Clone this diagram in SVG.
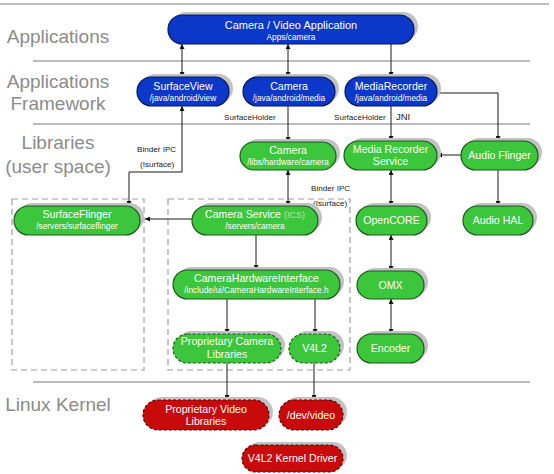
<svg xmlns="http://www.w3.org/2000/svg" width="554" height="474" viewBox="0 0 554 474">
<defs>
<marker id="ah" viewBox="0 0 6 6" refX="6" refY="3" markerWidth="5" markerHeight="5" orient="auto-start-reverse" markerUnits="userSpaceOnUse"><path d="M0,0 L6,3 L0,6 z" fill="#111"/></marker>
</defs>
<style>
.rule{stroke:#a6a6a6;stroke-width:1.5}
.sec{font-family:"Liberation Sans",Arial,sans-serif;font-size:19px;fill:#8c8c8c;text-anchor:middle}
.sh{fill:#c2c2c2}
.blue{fill:#0b38c8;stroke:#02195e;stroke-width:1.2}
.green{fill:#3bc63b;stroke:#1d5a1d;stroke-width:1.2}
.red{fill:#c80a0a;stroke:#5a0000;stroke-width:1.2;stroke-dasharray:3 2}
.dash{stroke-dasharray:3 2}
.t{font-family:"Liberation Sans",Arial,sans-serif;font-size:10.6px;fill:#fff;text-anchor:middle}
.s{font-family:"Liberation Sans",Arial,sans-serif;font-size:8.3px;fill:#fff;text-anchor:middle}
.lbl{font-family:"Liberation Sans",Arial,sans-serif;font-size:8.1px;fill:#222}
.c{fill:none;stroke:#1a1a1a;stroke-width:1}
.box{fill:none;stroke:#a0a0a0;stroke-width:1.2;stroke-dasharray:6 4}
</style>
<rect width="554" height="474" fill="#fff"/>
<g id="rules">
<line class="rule" x1="0" y1="4" x2="549" y2="4"/>
<line class="rule" x1="33" y1="61" x2="530" y2="61"/>
<line class="rule" x1="33" y1="124" x2="530" y2="124"/>
<line class="rule" x1="33" y1="382" x2="530" y2="382"/>
</g>
<g id="sections">
<text class="sec" x="58" y="43">Applications</text>
<text class="sec" x="58" y="88">Applications</text>
<text class="sec" x="58" y="110">Framework</text>
<text class="sec" x="58" y="149">Libraries</text>
<text class="sec" x="58" y="173">(user space)</text>
<text class="sec" x="58" y="411">Linux Kernel</text>
</g>
<g id="boxes">
<rect class="box" x="12" y="199" width="132" height="171"/>
<rect class="box" x="168" y="199" width="182" height="171"/>
</g>
<g id="connectors">
<path class="c" d="M182,44 V77" marker-start="url(#ah)" marker-end="url(#ah)"/>
<path class="c" d="M288,44 V77" marker-start="url(#ah)" marker-end="url(#ah)"/>
<path class="c" d="M391,44 V77" marker-end="url(#ah)"/>
<path class="c" d="M437,93 H498 V141" marker-end="url(#ah)"/>
<path class="c" d="M391,106 V141" marker-end="url(#ah)"/>
<path class="c" d="M288,106 V142" marker-end="url(#ah)"/>
<path class="c" d="M182,106 V172 H129 V206" marker-start="url(#ah)" marker-end="url(#ah)"/>
<path class="c" d="M461,155 H437" marker-end="url(#ah)"/>
<path class="c" d="M498,170 V206" marker-end="url(#ah)"/>
<path class="c" d="M288,170 V206" marker-start="url(#ah)" marker-end="url(#ah)"/>
<path class="c" d="M391,170 V206" marker-start="url(#ah)" marker-end="url(#ah)"/>
<path class="c" d="M391,235 V271" marker-start="url(#ah)" marker-end="url(#ah)"/>
<path class="c" d="M391,299 V334" marker-start="url(#ah)" marker-end="url(#ah)"/>
<path class="c" d="M192,219 H145" marker-end="url(#ah)"/>
<path class="c" d="M256,235 V270" marker-end="url(#ah)"/>
<path class="c" d="M227,299 V334" marker-end="url(#ah)"/>
<path class="c" d="M315,299 V334" marker-end="url(#ah)"/>
<path class="c" d="M227,363 V400" marker-end="url(#ah)"/>
<path class="c" d="M314,363 V400" marker-end="url(#ah)"/>
<text class="lbl" x="224" y="120">SurfaceHolder</text>
<text class="lbl" x="334" y="120">SurfaceHolder</text>
<text class="lbl" x="396" y="120" style="font-size:9.5px">JNI</text>
<text class="lbl" x="137" y="152">Binder IPC</text>
<text class="lbl" x="140" y="167">(Isurface)</text>
<text class="lbl" x="311" y="191">Binder IPC</text>
<text class="lbl" x="313" y="206">(Isurface)</text>
</g>
<g id="app">
<rect class="sh" x="172" y="12" width="246" height="29" rx="14.5"/>
<rect class="blue" x="168" y="15" width="246" height="29" rx="14.5"/>
<text class="t" x="291" y="29" style="font-size:11px">Camera / Video Application</text>
<text class="s" x="291" y="40">Apps/camera</text>
</g>
<g id="surfaceview">
<rect class="sh" x="141" y="74" width="92" height="29" rx="14.5"/>
<rect class="blue" x="137" y="77" width="92" height="29" rx="14.5"/>
<text class="t" x="183" y="90">SurfaceView</text>
<text class="s" x="183" y="101">/java/android/view</text>
</g>
<g id="camera-fw">
<rect class="sh" x="247" y="74" width="92" height="29" rx="14.5"/>
<rect class="blue" x="243" y="77" width="92" height="29" rx="14.5"/>
<text class="t" x="289" y="90">Camera</text>
<text class="s" x="289" y="101">/java/android/media</text>
</g>
<g id="mediarecorder">
<rect class="sh" x="349" y="74" width="92" height="29" rx="14.5"/>
<rect class="blue" x="345" y="77" width="92" height="29" rx="14.5"/>
<text class="t" x="391" y="90">MediaRecorder</text>
<text class="s" x="391" y="101">/java/android/media</text>
</g>
<g id="camera-lib">
<rect class="sh" x="244" y="139" width="96" height="28" rx="14"/>
<rect class="green" x="240" y="142" width="96" height="28" rx="14"/>
<text class="t" x="288" y="154">Camera</text>
<text class="s" x="288" y="165">/libs/hardware/camera</text>
</g>
<g id="mediarecorderservice">
<rect class="sh" x="348" y="138" width="93" height="29" rx="14.5"/>
<rect class="green" x="344" y="141" width="93" height="29" rx="14.5"/>
<text class="t" x="390.5" y="153">Media Recorder</text>
<text class="t" x="390.5" y="165">Service</text>
</g>
<g id="audioflinger">
<rect class="sh" x="465" y="138" width="77" height="29" rx="14.5"/>
<rect class="green" x="461" y="141" width="77" height="29" rx="14.5"/>
<text class="t" x="499.5" y="159">Audio Flinger</text>
</g>
<g id="surfaceflinger">
<rect class="sh" x="18" y="203" width="126" height="29" rx="14.5"/>
<rect class="green" x="14" y="206" width="126" height="29" rx="14.5"/>
<text class="t" x="77" y="218">SurfaceFlinger</text>
<text class="s" x="77" y="229">/servers/surfaceflinger</text>
</g>
<g id="cameraservice">
<rect class="sh" x="196" y="203" width="126" height="29" rx="14.5"/>
<rect class="green" x="192" y="206" width="126" height="29" rx="14.5"/>
<text class="t" x="255" y="218">Camera Service <tspan style="fill:#b3ebb3;font-size:9px">(ICS)</tspan></text>
<text class="s" x="255" y="229">/servers/camera</text>
</g>
<g id="opencore">
<rect class="sh" x="360" y="203" width="71" height="29" rx="14.5"/>
<rect class="green" x="356" y="206" width="71" height="29" rx="14.5"/>
<text class="t" x="391.5" y="224">OpenCORE</text>
</g>
<g id="audiohal">
<rect class="sh" x="467" y="203" width="70" height="29" rx="14.5"/>
<rect class="green" x="463" y="206" width="70" height="29" rx="14.5"/>
<text class="t" x="498" y="224">Audio HAL</text>
</g>
<g id="camerahardwareinterface">
<rect class="sh" x="177" y="267" width="167" height="29" rx="14.5"/>
<rect class="green" x="173" y="270" width="167" height="29" rx="14.5"/>
<text class="t" x="256.5" y="282">CameraHardwareInterface</text>
<text class="s" x="256.5" y="293">/include/ui/CameraHardwareInterface.h</text>
</g>
<g id="omx">
<rect class="sh" x="361" y="268" width="67" height="28" rx="14"/>
<rect class="green" x="357" y="271" width="67" height="28" rx="14"/>
<text class="t" x="390.5" y="289">OMX</text>
</g>
<g id="propcamlibs">
<rect class="sh" x="177" y="331" width="108" height="29" rx="14.5"/>
<rect class="green dash" x="173" y="334" width="108" height="29" rx="14.5"/>
<text class="t" x="227" y="345">Proprietary Camera</text>
<text class="t" x="227" y="358">Libraries</text>
</g>
<g id="v4l2">
<rect class="sh" x="293" y="331" width="51" height="29" rx="14.5"/>
<rect class="green dash" x="289" y="334" width="51" height="29" rx="14.5"/>
<text class="t" x="314.5" y="352">V4L2</text>
</g>
<g id="encoder">
<rect class="sh" x="361" y="331" width="67" height="29" rx="14.5"/>
<rect class="green" x="357" y="334" width="67" height="29" rx="14.5"/>
<text class="t" x="390.5" y="352">Encoder</text>
</g>
<g id="propvideolibs">
<rect class="sh" x="147" y="397" width="126" height="30" rx="15"/>
<rect class="red" x="143" y="400" width="126" height="30" rx="15"/>
<text class="t" x="206" y="413">Proprietary Video</text>
<text class="t" x="206" y="425">Libraries</text>
</g>
<g id="devvideo">
<rect class="sh" x="283" y="397" width="64" height="30" rx="15"/>
<rect class="red" x="279" y="400" width="64" height="30" rx="15"/>
<text class="t" x="311" y="419">/dev/video</text>
</g>
<g id="v4l2driver">
<rect class="sh" x="246" y="442" width="101" height="27" rx="13.5"/>
<rect class="red" x="242" y="445" width="101" height="27" rx="13.5"/>
<text class="t" x="292.5" y="462">V4L2 Kernel Driver</text>
</g>
</svg>
